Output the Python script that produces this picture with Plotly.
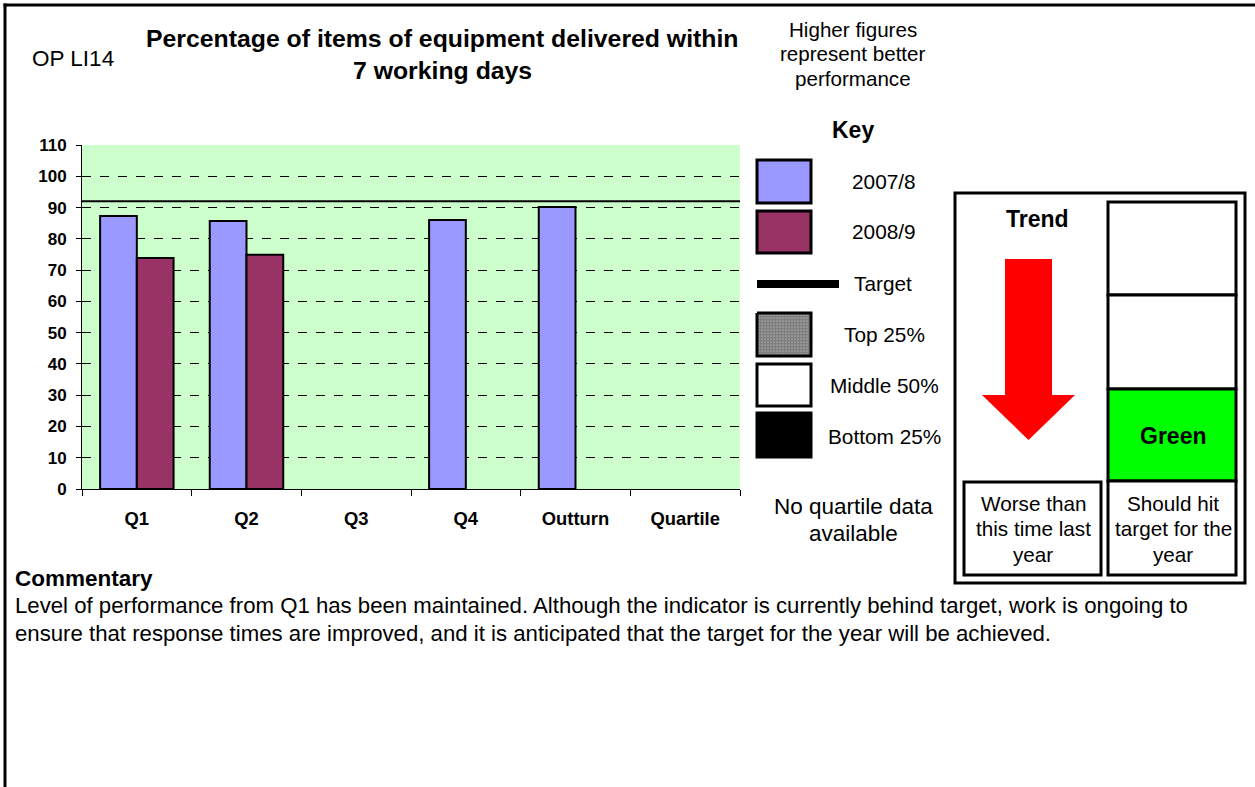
import plotly.graph_objects as go

W, H = 1255, 787

categories = ["Q1", "Q2", "Q3", "Q4", "Outturn", "Quartile"]
series_2007_8 = [87.3, 85.7, None, 86.0, 90.2, None]
series_2008_9 = [73.9, 74.9, None, None, None, None]
target_value = 92
y_ticks = [0, 10, 20, 30, 40, 50, 60, 70, 80, 90, 100, 110]

FONT = "Liberation Sans, Arial, sans-serif"


def px(x):
    return x / W


def py(y):
    return 1 - y / H


fig = go.Figure()
fig.add_trace(go.Bar(x=categories, y=series_2007_8, name="2007/8",
                     marker=dict(color="#9999FF", line=dict(color="black", width=2))))
fig.add_trace(go.Bar(x=categories, y=series_2008_9, name="2008/9",
                     marker=dict(color="#993366", line=dict(color="black", width=2))))

# patterned "Top 25%" key swatch, drawn on a full-page pixel overlay
fig.add_trace(go.Scatter(x=[757, 811, 811, 757, 757], y=[313, 313, 356, 356, 313],
                         xaxis="x2", yaxis="y2", mode="lines", fill="toself",
                         fillcolor="white",
                         fillpattern=dict(shape=".", fgcolor="black", bgcolor="white",
                                          size=3, solidity=0.85),
                         line=dict(color="black", width=3), hoverinfo="skip"))

shapes = []
# green plot background (below grid)
shapes.append(dict(type="rect", xref="x domain", yref="y domain", x0=0, x1=1, y0=0, y1=1,
                   fillcolor="#CCFFCC", line=dict(width=0), layer="below"))
# target line across plot
shapes.append(dict(type="line", xref="x domain", yref="y", x0=0, x1=1,
                   y0=target_value, y1=target_value, line=dict(color="black", width=2)))


def rect(x0, y0, x1, y1, fill="rgba(0,0,0,0)", lw=3, lc="black"):
    shapes.append(dict(type="rect", xref="paper", yref="paper",
                       x0=px(x0), x1=px(x1), y0=py(y1), y1=py(y0),
                       fillcolor=fill, line=dict(color=lc, width=lw), layer="above"))


def line(x0, y0, x1, y1, lw=3):
    shapes.append(dict(type="line", xref="paper", yref="paper",
                       x0=px(x0), x1=px(x1), y0=py(y0), y1=py(y1),
                       line=dict(color="black", width=lw)))


# page border (top and left)
line(3.5, 5, W, 5, 3)
line(5, 3.5, 5, H, 3)

# key swatches
rect(757, 160, 811, 203, "#9999FF")
rect(757, 211, 811, 253, "#993366")
rect(757, 280, 839, 288, "black", lw=0)
rect(757, 364, 811, 406, "white")
rect(757, 413, 811, 457, "black")

# trend box
rect(955, 193, 1245, 583, "white")
rect(1108, 202, 1236, 295, "white")
rect(1108, 295, 1236, 389, "white")
rect(1108, 389, 1236, 481, "#00FF00")
rect(1108, 481, 1236, 575, "white")
rect(964, 482, 1101, 575, "white")

# red arrow
pts = [(1005, 259), (1052, 259), (1052, 395), (1075, 395), (1028.5, 440), (982, 395), (1005, 395)]
path = "M " + " L ".join(f"{px(x):.5f},{py(y):.5f}" for x, y in pts) + " Z"
shapes.append(dict(type="path", xref="paper", yref="paper", path=path,
                   fillcolor="#FF0000", line=dict(width=0)))

annotations = []


def text(x, y, s, size=20, bold=False, xanchor="center", align="center"):
    if bold:
        s = "<b>" + s + "</b>"
    annotations.append(dict(xref="paper", yref="paper", x=px(x), y=py(y), text=s,
                            showarrow=False, xanchor=xanchor, yanchor="middle", align=align,
                            font=dict(family=FONT, size=size, color="black")))


text(73, 58, "OP LI14", 22.5)
text(443, 38, "Percentage of items of equipment delivered within", 24.8, bold=True)
text(443, 70, "7 working days", 24.8, bold=True)
text(853, 29, "Higher figures", 20.6)
text(853, 54, "represent better", 20.6)
text(853, 79, "performance", 20.6)
text(853, 130, "Key", 23, bold=True)
text(884, 181, "2007/8", 20.8)
text(884, 232, "2008/9", 20.8)
text(852, 283, "Target", 20.8, xanchor="left")
text(884, 334, "Top 25%", 20.8)
text(884, 385, "Middle 50%", 20.8)
text(884, 436, "Bottom 25%", 20.8)
text(853, 506, "No quartile data", 22.5)
text(853, 533, "available", 22.5)
text(1037, 219, "Trend", 23, bold=True)
text(1173, 436, "Green", 23, bold=True)
text(1033, 503, "Worse than", 20.7)
text(1033, 528, "this time last", 20.7)
text(1033, 554, "year", 20.7)
text(1173, 503, "Should hit", 20.7)
text(1173, 528, "target for the", 20.7)
text(1173, 554, "year", 20.7)
text(13, 578, "Commentary", 22.5, bold=True, xanchor="left", align="left")
text(13, 605, "Level of performance from Q1 has been maintained. Although the indicator is currently behind target, work is ongoing to",
     22.2, xanchor="left", align="left")
text(13, 633, "ensure that response times are improved, and it is anticipated that the target for the year will be achieved.",
     22.2, xanchor="left", align="left")

fig.update_layout(
    width=W, height=H,
    margin=dict(l=0, r=0, t=0, b=0),
    paper_bgcolor="white",
    plot_bgcolor="rgba(0,0,0,0)",
    barmode="group",
    bargap=0.33,
    bargroupgap=0,
    showlegend=False,
    shapes=shapes,
    annotations=annotations,
    font=dict(family=FONT, color="black"),
    xaxis=dict(domain=[px(82), px(740)], automargin=False, showline=True, linecolor="black",
               linewidth=1, ticks="outside", tickson="boundaries", ticklen=6, tickcolor="black",
               tickfont=dict(family=FONT, size=18.4, color="black", weight="bold"),
               ticklabelstandoff=13, showgrid=False, fixedrange=True),
    yaxis=dict(domain=[py(489), py(145)], automargin=False, range=[0, 110], tickvals=y_ticks,
               showline=True, linecolor="black", linewidth=1, ticks="outside", ticklen=5,
               tickcolor="black", tickfont=dict(family=FONT, size=17, color="black", weight="bold"),
               ticklabelstandoff=6, showgrid=True, gridcolor="black", gridwidth=1, griddash="dash",
               zeroline=False, fixedrange=True),
    xaxis2=dict(domain=[0, 1], range=[0, W], visible=False, fixedrange=True, anchor="y2"),
    yaxis2=dict(domain=[0, 1], range=[H, 0], visible=False, fixedrange=True, anchor="x2"),
)

# the page body has a default 8px margin; remove it so the figure fills the window
fig.write_html("out.html", config={"displayModeBar": False},
               post_script="document.body.style.margin='0';")
